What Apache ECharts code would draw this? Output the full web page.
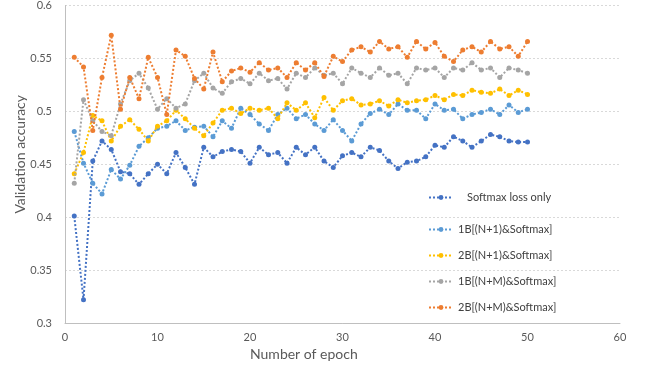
<!DOCTYPE html>
<html>
<head>
<meta charset="utf-8">
<script src="https://cdn.jsdelivr.net/npm/echarts@6/dist/echarts.min.js"></script>
<style>
  html, body { margin: 0; padding: 0; background: #fff; }
  #chart { width: 645px; height: 373px; }
</style>
</head>
<body>
<div id="chart"></div>
<script>
// Training epochs
const epochs = [1,2,3,4,5,6,7,8,9,10,11,12,13,14,15,16,17,18,19,20,21,22,23,24,25,
  26,27,28,29,30,31,32,33,34,35,36,37,38,39,40,41,42,43,44,45,46,47,48,49,50];

// Validation accuracy per epoch, one list per training setup
const softmaxOnly = [0.401,0.322,0.453,0.472,0.464,0.443,0.441,0.431,0.441,0.450,
  0.441,0.461,0.447,0.431,0.466,0.457,0.462,0.464,0.462,0.451,
  0.466,0.459,0.461,0.451,0.466,0.459,0.466,0.453,0.447,0.458,
  0.461,0.457,0.466,0.463,0.453,0.446,0.452,0.453,0.457,0.468,
  0.466,0.476,0.472,0.466,0.472,0.478,0.476,0.472,0.471,0.471];
const b1N1 = [0.481,0.451,0.432,0.422,0.445,0.436,0.449,0.467,0.475,0.484,
  0.486,0.491,0.482,0.485,0.486,0.476,0.491,0.484,0.503,0.497,
  0.488,0.482,0.497,0.503,0.493,0.497,0.488,0.482,0.492,0.482,
  0.472,0.488,0.498,0.502,0.497,0.507,0.501,0.501,0.493,0.507,
  0.501,0.502,0.493,0.497,0.499,0.502,0.497,0.506,0.499,0.502];
const b2N1 = [0.441,0.461,0.496,0.491,0.472,0.486,0.492,0.483,0.472,0.486,
  0.491,0.501,0.493,0.484,0.477,0.489,0.501,0.503,0.498,0.503,
  0.501,0.503,0.493,0.508,0.501,0.508,0.494,0.513,0.501,0.510,
  0.512,0.506,0.507,0.510,0.505,0.511,0.508,0.510,0.511,0.515,
  0.511,0.516,0.515,0.520,0.518,0.517,0.521,0.515,0.520,0.516];
const b1NM = [0.432,0.511,0.491,0.481,0.477,0.507,0.529,0.536,0.522,0.502,
  0.512,0.503,0.507,0.529,0.536,0.522,0.517,0.528,0.531,0.526,
  0.536,0.529,0.531,0.521,0.536,0.532,0.541,0.534,0.536,0.526,
  0.541,0.536,0.532,0.541,0.534,0.536,0.526,0.541,0.539,0.541,
  0.532,0.541,0.539,0.546,0.539,0.541,0.532,0.541,0.539,0.536];
const b2NM = [0.551,0.542,0.482,0.532,0.572,0.502,0.532,0.512,0.551,0.532,
  0.497,0.558,0.552,0.531,0.521,0.556,0.528,0.538,0.541,0.537,
  0.546,0.539,0.541,0.532,0.546,0.539,0.546,0.533,0.552,0.547,
  0.558,0.561,0.556,0.566,0.559,0.561,0.551,0.566,0.559,0.565,
  0.552,0.547,0.558,0.561,0.556,0.566,0.559,0.561,0.552,0.566];

const seriesNames = ['Softmax loss only', '1B[(N+1)&Softmax]', '2B[(N+1)&Softmax]',
  '1B[(N+M)&Softmax]', '2B[(N+M)&Softmax]'];
const seriesValues = [softmaxOnly, b1N1, b2N1, b1NM, b2NM];
const colors = ['#4472C4', '#5B9BD5', '#FFC000', '#A5A5A5', '#ED7D31'];

const yTicks = { min: 0.3, max: 0.6, step: 0.05 };
const xTicks = { min: 0, max: 60, step: 10 };

const FONT = 'Lato, "Open Sans", sans-serif';
const TEXT = '#595959';

// legend rows: left / top offsets and extra space before the label
const legendPos = [
  { left: 428, top: 192, textLeft: 9 },
  { left: 428, top: 224, textLeft: 0 },
  { left: 428, top: 250, textLeft: 0 },
  { left: 428, top: 276, textLeft: 0 },
  { left: 428, top: 302, textLeft: 0 }
];

const chart = echarts.init(document.getElementById('chart'), null, { renderer: 'canvas' });

const series = seriesNames.map((name, i) => ({
  name,
  type: 'line',
  data: epochs.map((e, k) => [e, seriesValues[i][k]]),
  symbol: 'circle',
  symbolSize: 5,
  showSymbol: true,
  color: colors[i],
  lineStyle: { color: colors[i], width: 2, type: [2, 2] },
  itemStyle: { color: colors[i] },
  emphasis: { disabled: true },
  animation: false,
  z: 2 + i
}));

const legends = seriesNames.map((name, i) => ({
  data: [name],
  left: legendPos[i].left,
  top: legendPos[i].top,
  orient: 'horizontal',
  itemWidth: 24,
  itemHeight: 6,
  itemGap: 0,
  padding: 0,
  selectedMode: false,
  textStyle: {
    fontFamily: FONT,
    fontSize: 11,
    color: '#404040',
    padding: [0, 0, 0, legendPos[i].textLeft]
  }
}));

chart.setOption({
  backgroundColor: '#ffffff',
  animation: false,
  grid: { left: 65, right: 25, top: 3, bottom: 50, containLabel: false },
  xAxis: {
    type: 'value',
    min: xTicks.min,
    max: xTicks.max,
    interval: xTicks.step,
    axisLine: { show: true, lineStyle: { color: '#BFBFBF', width: 1 } },
    axisTick: { show: false },
    splitLine: { show: false },
    axisLabel: { fontFamily: FONT, fontSize: 11, color: TEXT, margin: 9 }
  },
  yAxis: {
    type: 'value',
    min: yTicks.min,
    max: yTicks.max,
    interval: yTicks.step,
    axisLine: { show: true, lineStyle: { color: '#BFBFBF', width: 1 } },
    axisTick: { show: false },
    splitLine: { show: true, lineStyle: { color: '#D9D9D9', width: 1, type: [2, 2] } },
    axisLabel: {
      fontFamily: FONT, fontSize: 11, color: TEXT, margin: 13,
      formatter: v => String(parseFloat(v.toFixed(2)))
    }
  },
  legend: legends,
  graphic: [
    {
      type: 'text', left: 250, top: 347,
      style: { text: 'Number of epoch', font: '14px ' + FONT, fill: TEXT }
    },
    {
      type: 'text', left: 13, top: 95, rotation: Math.PI / 2,
      style: { text: 'Validation accuracy', font: '14px ' + FONT, fill: TEXT }
    }
  ],
  series
});
</script>
</body>
</html>
